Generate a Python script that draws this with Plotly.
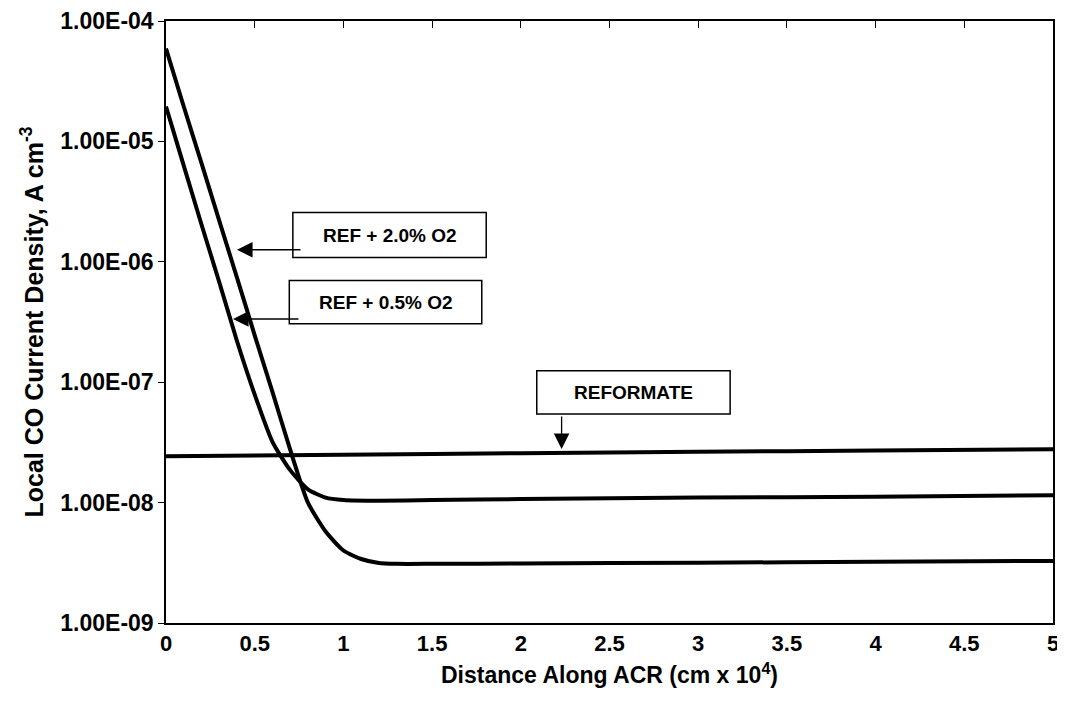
"""Local CO current density along the ACR, three feed cases, log scale."""

import plotly.graph_objects as go

# distance along ACR (cm x 10^4) and read-off current densities (A cm^-3)
x_o2_20 = [0, 0.1, 0.2, 0.3, 0.4, 0.5, 0.6, 0.7, 0.8, 0.9, 1.0, 1.1, 1.2, 1.3,
           1.5, 2, 3, 4, 5]
y_o2_20 = [5.9e-5, 1.95e-5, 6.6e-6, 2.2e-6, 7.4e-7, 2.45e-7, 8.3e-8, 2.75e-8,
           1.0e-8, 5.75e-9, 4.0e-9, 3.4e-9, 3.15e-9, 3.1e-9, 3.1e-9, 3.12e-9,
           3.17e-9, 3.22e-9, 3.28e-9]

x_o2_05 = [0, 0.1, 0.2, 0.3, 0.4, 0.5, 0.6, 0.7, 0.8, 0.9, 1.0, 1.2, 1.5, 2,
           3, 4, 5]
y_o2_05 = [1.95e-5, 6.3e-6, 2.04e-6, 6.8e-7, 2.2e-7, 7.9e-8, 3.2e-8, 1.86e-8,
           1.29e-8, 1.1e-8, 1.05e-8, 1.035e-8, 1.05e-8, 1.07e-8, 1.1e-8,
           1.12e-8, 1.15e-8]

x_reformate = [0, 1, 2, 3, 4, 5]
y_reformate = [2.43e-8, 2.5e-8, 2.57e-8, 2.64e-8, 2.71e-8, 2.78e-8]

x_ticks = [0, 0.5, 1, 1.5, 2, 2.5, 3, 3.5, 4, 4.5, 5]
x_ticktext = ["0", "0.5", "1", "1.5", "2", "2.5", "3", "3.5", "4", "4.5", "5"]
y_ticks = [1e-9, 1e-8, 1e-7, 1e-6, 1e-5, 1e-4]
y_ticktext = ["1.00E-09", "1.00E-08", "1.00E-07", "1.00E-06", "1.00E-05",
              "1.00E-04"]

BOLD = "Liberation Sans, Arial, sans-serif"
NARROW = "Liberation Sans Narrow, Arial Narrow, Liberation Sans, sans-serif"

fig = go.Figure()

for xs, ys, name in [
    (x_reformate, y_reformate, "REFORMATE"),
    (x_o2_05, y_o2_05, "REF + 0.5% O2"),
    (x_o2_20, y_o2_20, "REF + 2.0% O2"),
]:
    fig.add_trace(
        go.Scatter(
            x=xs, y=ys, name=name, mode="lines",
            line=dict(color="black", width=4, shape="spline", smoothing=0.6),
            showlegend=False,
        )
    )

# empty trace so the top tick axis gets drawn
fig.add_trace(go.Scatter(x=x_ticks, y=[None] * len(x_ticks), xaxis="x2",
                         showlegend=False, hoverinfo="skip"))

# label boxes (paper coords) and arrows
boxes = [
    ("REF + 2.0% O2", 0.143, 0.361, 0.607, 0.682),
    ("REF + 0.5% O2", 0.139, 0.356, 0.497, 0.569),
    ("REFORMATE", 0.418, 0.636, 0.347, 0.419),
]
shapes = []
annotations = []
for text, x0, x1, y0, y1 in boxes:
    shapes.append(dict(
        type="rect", xref="paper", yref="paper", x0=x0, x1=x1, y0=y0, y1=y1,
        line=dict(color="black", width=1.5), fillcolor="white",
    ))
    annotations.append(dict(
        text=text, xref="paper", yref="paper", x=(x0 + x1) / 2, y=(y0 + y1) / 2,
        xanchor="center", yanchor="middle", showarrow=False,
        font=dict(family=BOLD, size=19, color="black", weight="bold"),
    ))

arrows = [(0.080, 0.620, 65, 0), (0.0755, 0.505, 67, 0), (0.446, 0.289, 0, -34)]
for x, y, ax, ay in arrows:
    annotations.append(dict(
        text="", xref="paper", yref="paper", x=x, y=y, ax=ax, ay=ay,
        showarrow=True, arrowhead=2, arrowsize=2.4, arrowwidth=1.3,
        arrowcolor="black",
    ))

# page body adds ~8px around the figure, so the figure is sized to fit the window
fig.update_layout(
    width=1057,
    height=701,
    margin=dict(l=158, r=12, t=13, b=86),
    paper_bgcolor="white",
    plot_bgcolor="white",
    shapes=shapes,
    annotations=annotations,
    xaxis=dict(
        range=[0, 5],
        automargin=False,
        tickvals=x_ticks,
        ticktext=x_ticktext,
        ticks="",
        ticklabeloverflow="allow",
        showgrid=False,
        zeroline=False,
        showline=True,
        linecolor="black",
        linewidth=1.5,
        mirror=True,
        tickfont=dict(family=NARROW, size=22, color="black", weight="bold"),
        title=dict(
            text="Distance Along ACR (cm x 10<sup>4</sup>)",
            font=dict(family=NARROW, size=23, color="black", weight="bold"),
            standoff=12,
        ),
    ),
    xaxis2=dict(
        overlaying="x",
        side="top",
        anchor="y",
        automargin=False,
        range=[0, 5],
        tickvals=x_ticks,
        ticks="inside",
        ticklen=7,
        tickcolor="black",
        showticklabels=False,
        showgrid=False,
        zeroline=False,
        showline=False,
    ),
    yaxis=dict(
        type="log",
        range=[-9, -4],
        automargin=False,
        tickvals=y_ticks,
        ticktext=y_ticktext,
        ticks="outside",
        ticklen=6,
        tickcolor="black",
        ticklabeloverflow="allow",
        showgrid=False,
        zeroline=False,
        showline=True,
        linecolor="black",
        linewidth=1.5,
        mirror=True,
        tickfont=dict(family=BOLD, size=23, color="black", weight="bold"),
        title=dict(
            text="Local CO Current Density, A cm<sup>-3</sup>",
            font=dict(family=BOLD, size=25, color="black", weight="bold"),
            standoff=10,
        ),
    ),
)

fig.write_html("out.html")
